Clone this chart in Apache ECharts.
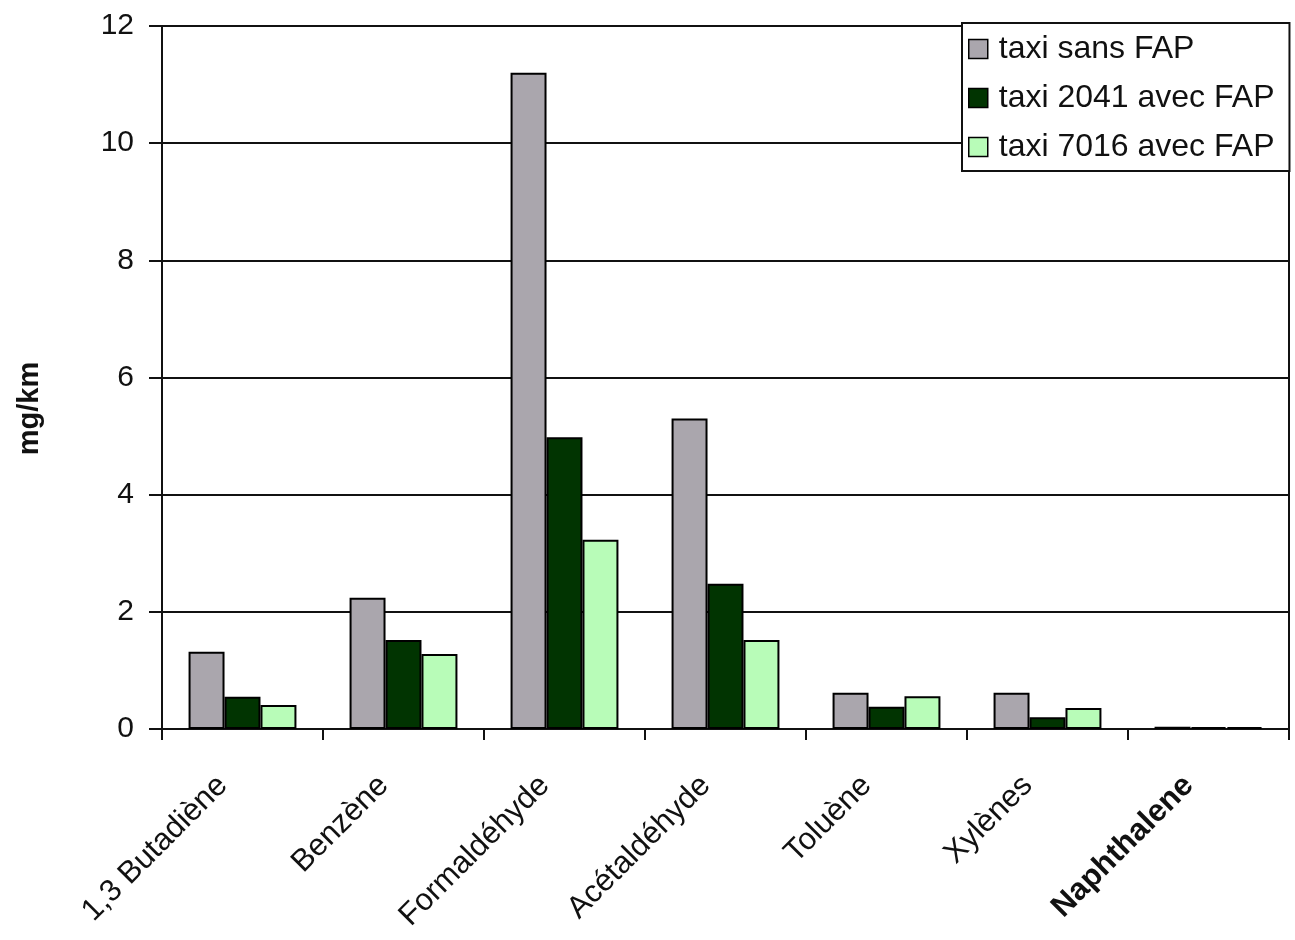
<!DOCTYPE html>
<html>
<head>
<meta charset="utf-8">
<script src="https://cdn.jsdelivr.net/npm/echarts@6/dist/echarts.min.js"></script>
<style>
  html, body { margin: 0; padding: 0; background: #fff; }
  #chart { width: 1295px; height: 940px; }
</style>
</head>
<body>
<div id="chart"></div>
<script>
// Pollutants measured (mg/km)
const categories = ['1,3 Butadiène', 'Benzène', 'Formaldéhyde', 'Acétaldéhyde', 'Toluène', 'Xylènes', 'Naphthalene'];
const seriesNames = ['taxi sans FAP', 'taxi 2041 avec FAP', 'taxi 7016 avec FAP'];
const taxiSansFap = [1.32, 2.24, 11.2, 5.3, 0.62, 0.62, 0.04];
const taxi2041 = [0.55, 1.52, 4.98, 2.48, 0.38, 0.2, 0.03];
const taxi7016 = [0.41, 1.28, 3.23, 1.52, 0.56, 0.36, 0.03];
const yTicks = [0, 2, 4, 6, 8, 10, 12];

const colors = ['#aaa6ad', '#013401', '#b8fcb8'];
const font = '"Liberation Sans", Arial, sans-serif';

const chart = echarts.init(document.getElementById('chart'), null, { renderer: 'canvas' });

const seriesData = [taxiSansFap, taxi2041, taxi7016];

chart.setOption({
  backgroundColor: '#fff',
  animation: false,
  textStyle: { fontFamily: font, color: '#000' },
  grid: {
    left: 162, right: 6, top: 26, bottom: 211,
    show: true, borderColor: '#111', borderWidth: 2, backgroundColor: 'transparent'
  },
  legend: {
    orient: 'vertical',
    left: 962, top: 23,
    backgroundColor: '#fff',
    borderColor: '#111', borderWidth: 2,
    padding: [10, 15, 8, 6],
    itemWidth: 19, itemHeight: 19, itemGap: 17,
    icon: 'rect',
    itemStyle: { borderColor: '#000', borderWidth: 1.5 },
    textStyle: { fontSize: 32, fontFamily: font, color: '#111', lineHeight: 30, padding: [0, 0, 0, 6] },
    data: seriesNames
  },
  xAxis: {
    type: 'category',
    data: categories.map((c, i) => i === categories.length - 1
      ? { value: c, textStyle: { fontWeight: 'bold' } }
      : c),
    axisLine: { lineStyle: { color: '#111', width: 2 } },
    axisTick: { show: true, length: 11, lineStyle: { color: '#111', width: 2 } },
    axisLabel: {
      rotate: 45, fontSize: 31, fontFamily: font, color: '#111',
      margin: 32, padding: [0, 28, 0, 0], interval: 0
    }
  },
  yAxis: {
    type: 'value',
    min: yTicks[0], max: yTicks[yTicks.length - 1], interval: 2,
    name: 'mg/km',
    nameLocation: 'middle',
    nameRotate: 90,
    nameGap: 118,
    nameTextStyle: { fontSize: 29, fontWeight: 'bold', fontFamily: font, color: '#111', padding: [0, 62, 0, 0] },
    axisLine: { show: true, lineStyle: { color: '#111', width: 2 } },
    axisTick: { show: true, length: 13, lineStyle: { color: '#111', width: 2 } },
    axisLabel: { fontSize: 30, fontFamily: font, color: '#111', margin: 28 },
    splitLine: { show: true, lineStyle: { color: '#111', width: 2 } }
  },
  series: seriesNames.map((name, i) => ({
    name,
    type: 'bar',
    data: seriesData[i],
    barGap: '0%',
    barCategoryGap: '33%',
    itemStyle: { color: colors[i], borderColor: '#000', borderWidth: 2 }
  }))
});
</script>
</body>
</html>
